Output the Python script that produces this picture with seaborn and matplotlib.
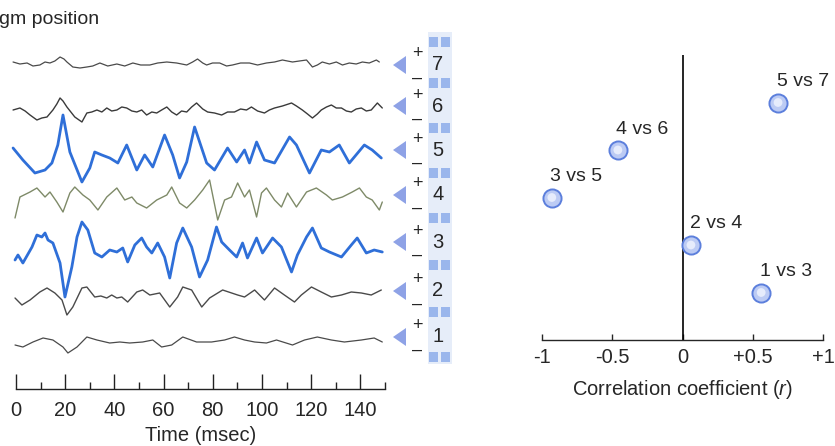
import numpy as np
import matplotlib
matplotlib.use("Agg")
import matplotlib.pyplot as plt
import seaborn as sns
from matplotlib.patches import Polygon, Rectangle

sns.set_style("white")
plt.rcParams['font.family'] = ['Liberation Sans', 'DejaVu Sans']
plt.rcParams['mathtext.fontset'] = 'custom'
plt.rcParams['mathtext.it'] = 'Liberation Sans:italic'

# electrogram traces, time in msec, amplitude in arbitrary units
t7 = [-1.2, 1.6, 4.5, 6.9, 9.7, 11.8, 13.8, 15.8, 17.9, 19.5, 20.7, 23.1, 26.0, 28.8, 31.2, 34.1, 37.3,
      41.0, 44.2, 47.5, 50.7, 54.4, 57.6, 61.3, 65.3, 69.4, 71.8, 73.8, 75.9, 77.5, 79.9, 82.8, 85.6,
      88.0, 91.3, 94.9, 98.2, 101.8, 105.1, 108.3, 112.4, 115.2, 118.1, 120.5, 122.5, 124.5, 127.4,
      130.2, 132.7, 135.5, 138.3, 140.8, 143.6, 146.5, 147.7]
a7 = [4, 2, 3, 0, 1, 4, 3, 5, 9, 7, 4, -1, -2, -1, 0, 3, 0, 2, 0, 3, 1, 1, 3, 4, 3, 1, 4, 7, 3, 1, 3,
      3, 0, 1, 3, 3, 1, 3, 4, 6, 4, 5, 6, -1, 1, 4, 2, 4, 1, 3, 2, 4, 3, 6, 4]

t6 = [-1.2, 1.6, 3.7, 5.7, 8.5, 10.5, 12.6, 15.0, 16.6, 17.9, 19.1, 20.7, 23.9, 26.8, 28.8, 30.8, 32.9,
      34.9, 36.9, 38.9, 41.0, 43.0, 45.0, 47.1, 49.1, 51.1, 53.1, 55.2, 57.2, 59.2, 61.3, 63.3, 65.3,
      67.3, 69.4, 71.4, 73.4, 75.9, 77.9, 80.7, 83.6, 86.0, 88.8, 91.3, 93.7, 95.7, 98.2, 101.0, 103.0,
      105.1, 108.3, 112.0, 114.0, 116.4, 118.5, 120.5, 122.5, 124.1, 126.2, 128.2, 130.2, 132.3,
      134.3, 136.3, 138.3, 140.4, 142.4, 144.4, 146.9, 148.9]
a6 = [0, 2, -1, -5, -10, -8, -7, 0, 6, 12, 9, 3, -7, -12, -3, -2, 0, -2, 2, -1, 0, 3, 2, -1, -2, 0,
      -5, -2, -3, 0, 3, -2, -5, -1, -2, 3, 7, 1, -2, -3, -5, -2, -2, 1, 0, 3, -1, -3, 0, 2, 4, 7, 4,
      0, -4, -8, -4, 0, 3, 5, 2, 2, -1, -2, 1, 2, -1, 0, 7, 2]

t5 = [-1.2, 2.8, 7.7, 11.8, 14.6, 17.0, 19.1, 21.9, 26.8, 30.0, 32.0, 34.9, 38.1, 41.4, 45.0, 49.1,
      52.3, 55.6, 60.4, 63.7, 66.5, 69.4, 72.6, 77.5, 80.7, 86.0, 89.7, 92.9, 94.9, 97.8, 101.0, 105.1,
      111.2, 114.0, 119.3, 124.1, 127.4, 131.4, 135.5, 141.6, 144.8, 148.5]
a5 = [2, -10, -23, -20, -13, 5, 35, -2, -32, -18, -2, -5, -8, -13, 5, -20, -5, -17, 15, -5, -28, -12,
      23, -13, -20, 2, -12, 0, -13, 8, -10, -13, 13, 5, -23, 0, -2, 5, -13, 5, 0, -8]

t4 = [-0.4, 1.6, 5.7, 8.5, 11.8, 13.8, 16.6, 19.1, 21.9, 23.9, 27.2, 30.0, 33.3, 36.9, 41.0, 44.2,
      47.1, 49.1, 53.1, 57.2, 61.3, 63.3, 66.5, 69.4, 72.6, 75.9, 78.7, 82.0, 84.8, 87.6, 90.1, 92.9,
      94.9, 97.8, 99.8, 101.8, 105.1, 107.9, 110.4, 114.0, 118.1, 122.1, 126.2, 128.6, 132.7, 136.7,
      139.6, 142.4, 144.8, 147.7, 148.9]
a4 = [-23, -2, 3, 7, -2, 3, -7, -17, 2, 8, 0, -5, -15, -2, 7, -5, -2, -8, -13, -5, 0, 8, -8, -13, -5,
      5, 15, -25, -5, -2, 12, -2, 5, -22, 2, 7, -5, -12, 2, -12, 3, 7, 0, -5, -2, 3, 7, -2, -5, -15, -7]

t3 = [-0.4, 0.8, 2.8, 6.5, 8.5, 10.5, 11.8, 13.0, 15.0, 17.9, 19.9, 22.7, 24.8, 26.8, 29.2, 32.0,
      34.9, 38.1, 41.0, 43.4, 45.4, 48.3, 51.1, 53.1, 55.2, 57.6, 60.4, 62.5, 65.3, 67.8, 71.4, 74.6,
      77.9, 81.5, 83.6, 86.8, 89.7, 92.1, 94.1, 97.8, 100.2, 104.3, 107.9, 112.0, 114.4, 118.1, 120.5,
      124.1, 127.4, 132.3, 136.3, 138.7, 142.4, 145.6, 148.9]
a3 = [-15, -10, -18, -2, 10, 8, 12, 5, 2, -18, -52, -22, 8, 23, 15, -8, -12, -5, -7, -3, -17, 0, 7,
      -2, -8, 2, -12, -33, 2, 17, -2, -32, -15, 18, 3, -5, -12, 2, -13, 7, -8, 7, -2, -27, -10, 8, 17,
      -3, -7, -12, 0, 7, -8, -5, -7]

t2 = [-0.4, 2.4, 5.7, 9.7, 12.6, 15.8, 18.7, 20.7, 23.1, 26.8, 28.8, 32.0, 34.5, 36.9, 38.9, 41.0,
      43.0, 45.4, 49.1, 51.5, 54.4, 58.4, 62.5, 65.7, 67.8, 71.4, 73.8, 75.5, 78.7, 84.0, 90.1, 92.9,
      97.0, 101.0, 105.1, 109.1, 113.2, 116.0, 120.1, 124.1, 128.2, 132.3, 136.3, 140.4, 144.4, 148.5]
a2 = [-3, -10, -5, 3, 7, 2, -5, -20, -12, 7, 8, -2, -1, -3, 0, -3, -2, -7, 3, 5, 0, 2, -12, -2, 8, 5,
      -5, -12, -3, 5, 0, -2, 5, -5, 7, 0, -7, 0, 8, 3, -2, 0, 3, 2, 0, 5]

t1 = [-0.4, 2.8, 6.9, 11.0, 15.0, 19.1, 21.1, 24.8, 28.8, 32.9, 38.1, 42.2, 46.2, 51.5, 55.6, 59.2,
      63.3, 67.8, 73.4, 79.5, 84.8, 88.8, 92.9, 97.0, 101.8, 105.9, 112.4, 117.3, 122.5, 128.2, 133.5,
      140.4, 145.6, 148.9]
a1 = [-3, -5, 0, 4, 2, -5, -11, -5, 5, 2, -1, 0, -1, 0, 2, -5, -3, 5, 0, 0, 2, 5, 2, 0, -1, 2, -3, 2,
      5, 2, 0, 2, 4, 0]

electrodes = ["7", "6", "5", "4", "3", "2", "1"]

# correlation between electrode pairs
pairs = ["1 vs 3", "2 vs 4", "3 vs 5", "4 vs 6", "5 vs 7"]
pair_rank = [1, 2, 3, 4, 5]
r_values = [0.56, 0.06, -0.93, -0.46, 0.68]

W, H = 835, 446
fig = plt.figure(figsize=(W / 100, H / 100), dpi=100)
FS = 14.5

def px_box(x0, x1, ytop, ybot):
    return [x0 / W, 1 - ybot / H, (x1 - x0) / W, (ybot - ytop) / H]

# ---- left panel: traces
ax1 = fig.add_axes(px_box(16, 385, 40, 389))
traces = [(t7, a7), (t6, a6), (t5, a5), (t4, a4), (t3, a3), (t2, a2), (t1, a1)]
row_base = [323, 279, 239, 194, 144, 94, 47]
styles = [("#4a4a4a", 0.9), ("#3a3a3a", 1.0), ("#2f6fd8", 2.0), ("#7e8a68", 1.0),
          ("#2f6fd8", 2.0), ("#4a4a4a", 1.0), ("#4a4a4a", 0.9)]
for (tt, aa), base, (col, lw) in zip(traces, row_base, styles):
    sns.lineplot(x=tt, y=np.array(aa) + base, ax=ax1, color=col, lw=lw, estimator=None,
                 sort=False, solid_joinstyle="round")
for ln in ax1.lines:
    ln.set_clip_on(False)

ax1.set_xlim(0, 150)
ax1.set_ylim(0, 349)
for s in ["top", "left", "right"]:
    ax1.spines[s].set_visible(False)
ax1.spines["bottom"].set_linewidth(1.0)
ax1.spines["bottom"].set_color("#222222")
ax1.set_yticks([])
ax1.set_xticks(np.arange(0, 141, 20))
ax1.set_xticks(np.arange(10, 151, 20), minor=True)
ax1.tick_params(axis="x", which="both", bottom=True)
ax1.tick_params(axis="x", which="major", direction="in", length=10.5, width=1.0,
                color="#222222", labelsize=FS, pad=9)
ax1.tick_params(axis="x", which="minor", direction="in", length=5, width=1.0, color="#222222")
ax1.set_xlabel("Time (msec)", fontsize=FS, labelpad=4)

# ---- right panel: correlation
ax2 = fig.add_axes(px_box(542, 823, 55, 340))
ax2.axvline(0, color="black", lw=1.2, zorder=1)
sns.scatterplot(x=r_values, y=pair_rank, ax=ax2, s=170, color="#bccbf4",
                edgecolor="#5c7fdc", linewidth=1.4, zorder=3, clip_on=False)
sns.scatterplot(x=r_values, y=pair_rank, ax=ax2, s=40, color="#e6ecfc",
                edgecolor="none", linewidth=0, zorder=4, clip_on=False)
for lab, xv, yv in zip(pairs, r_values, pair_rank):
    ax2.annotate(lab, (xv, yv), xytext=(-1, 9), textcoords="offset points",
                 ha="left", va="bottom", fontsize=FS - 0.5)
ax2.set_xlim(-1, 1)
ax2.set_ylim(0, 6)
for s in ["top", "left", "right"]:
    ax2.spines[s].set_visible(False)
ax2.spines["bottom"].set_linewidth(1.0)
ax2.set_yticks([])
ax2.set_xticks([-1, -0.5, 0, 0.5, 1])
ax2.set_xticklabels(["-1", "-0.5", "0", "+0.5", "+1"])
ax2.tick_params(axis="x", bottom=True, direction="in", length=4.5, width=1.0,
                labelsize=FS, pad=6)
ax2.set_xlabel("Correlation coefficient ($\\mathit{r}$)", fontsize=FS, labelpad=8)

# ---- overlay in pixel units: electrode strip and labels
ov = fig.add_axes([0, 0, 1, 1], facecolor="none")
ov.set_xlim(0, W)
ov.set_ylim(H, 0)
ov.axis("off")
ov.add_patch(Rectangle((428, 32), 24, 332, color="#e6edf9", lw=0))
for yc in [42, 83, 128, 173, 218, 265, 312, 357]:
    ov.add_patch(Rectangle((429, yc - 5), 9, 10, color="#9ab6ec", lw=0))
    ov.add_patch(Rectangle((441, yc - 5), 9, 10, color="#9ab6ec", lw=0))
row_px = [65, 106, 150, 195, 242, 291, 337]
for lab, cy in zip(electrodes, row_px):
    ov.add_patch(Polygon([[393, cy], [406, cy - 9], [406, cy + 9]], closed=True,
                         color="#8ea2e6", lw=0))
    ov.text(417, cy - 11, "+", ha="center", va="center", fontsize=13)
    ov.text(417, cy + 13, "\u2013", ha="center", va="center", fontsize=13)
    ov.text(438, cy, lab, ha="center", va="center", fontsize=FS)
ov.text(-1, 20, "gm position", ha="left", va="center", fontsize=14)

fig.savefig("out.png", dpi=100)
